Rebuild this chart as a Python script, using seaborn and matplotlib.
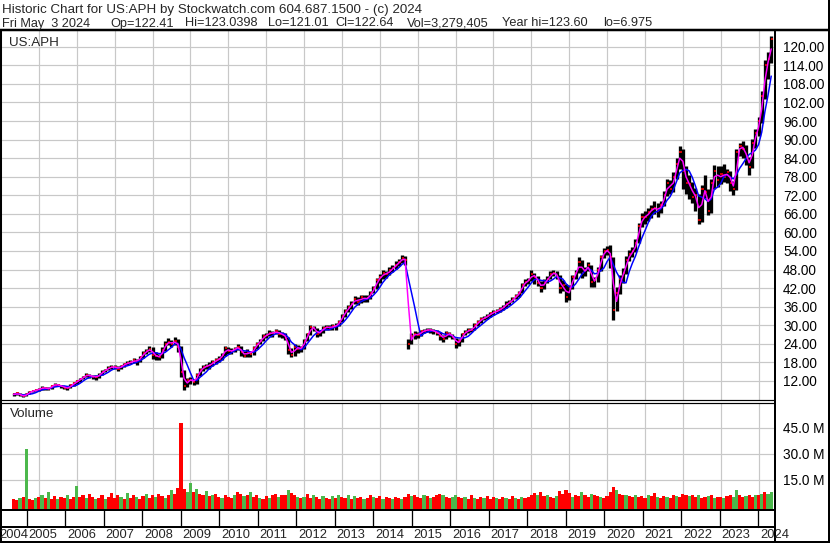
import numpy as np
import pandas as pd
import seaborn as sns
import matplotlib.pyplot as plt
from matplotlib.lines import Line2D

# monthly bars, May 2004 .. May 2024
close = [
    7.6, 8.0, 7.3, 7.0, 7.8, 8.4, 8.8, 9.0,
    9.4, 9.8, 9.6, 9.4, 10.5, 10.8, 10.6, 10.2, 9.8, 9.6, 10.6, 11.2,
    12.0, 12.6, 13.3, 14.0, 13.6, 13.4, 13.2, 14.0, 15.0, 15.6, 16.2, 16.6,
    16.4, 16.0, 16.8, 17.4, 17.8, 18.0, 18.6, 18.4, 19.6, 21.0, 21.6, 22.4,
    20.5, 20.0, 19.6, 22.0, 24.0, 24.6, 24.0, 25.0, 23.0, 15.0, 10.5, 12.2,
    12.4, 11.5, 14.0, 15.5, 16.5, 16.8, 17.2, 18.0, 18.6, 19.2, 20.4, 22.5,
    21.5, 21.8, 22.4, 23.0, 21.2, 20.2, 21.4, 20.8, 22.6, 24.0, 25.0, 26.4,
    26.8, 27.6, 27.4, 28.0, 27.2, 27.0, 26.0, 22.0, 20.4, 23.0, 22.4, 22.6,
    25.0, 27.0, 29.5, 29.0, 27.0, 28.0, 29.0, 29.5, 29.2, 29.6, 29.8, 31.0,
    33.0, 34.5, 35.8, 37.0, 38.5, 37.6, 39.0, 38.4, 38.8, 40.4, 42.0, 44.6,
    45.5, 46.8, 46.5, 47.8, 48.5, 49.6, 50.5, 51.7, 51.0, 24.0, 26.5, 27.2,
    26.8, 28.0, 28.2, 28.6, 28.4, 28.0, 27.6, 26.6, 25.6, 27.4, 27.0, 26.2,
    24.0, 24.8, 27.0, 27.8, 28.4, 28.6, 30.0, 31.0, 32.0, 32.4, 33.0, 33.8,
    34.2, 34.6, 35.2, 35.9, 37.0, 37.5, 38.4, 39.5, 40.4, 43.0, 44.0, 44.6,
    46.5, 45.6, 43.8, 42.0, 44.0, 45.0, 46.5, 47.0, 46.0, 42.0, 43.0, 39.0,
    42.0, 45.5, 47.0, 50.5, 47.0, 48.0, 49.5, 44.0, 44.5, 48.0, 52.0, 54.0,
    54.3, 52.0, 35.0, 40.4, 45.0, 47.0, 51.0, 53.0, 54.0, 56.6, 62.0, 65.0,
    65.0, 66.5, 67.5, 68.0, 67.0, 69.0, 72.0, 76.0, 74.0, 78.0, 82.0, 86.0,
    80.0, 76.0, 75.5, 71.5, 72.0, 64.0, 74.0, 73.0, 67.0, 76.0, 80.0, 77.0,
    79.0, 78.0, 79.5, 76.0, 74.0, 86.0, 88.0, 87.0, 84.0, 81.0, 89.0, 92.0,
    96.0, 104.0, 114.0, 116.0, 122.6,
]
high = [
    8.0, 8.4, 8.1, 7.5, 8.0, 8.7, 9.2, 9.4,
    9.8, 10.2, 10.1, 9.9, 10.8, 11.3, 11.1, 10.8, 10.4, 10.2, 10.9, 11.6,
    12.4, 13.0, 13.7, 14.6, 14.3, 13.9, 13.8, 14.4, 15.4, 16.0, 16.7, 17.2,
    17.1, 16.8, 17.2, 17.9, 18.4, 18.6, 19.5, 19.2, 20.2, 21.8, 22.4, 23.2,
    22.8, 21.2, 20.8, 22.8, 24.8, 25.8, 25.2, 26.2, 25.6, 23.2, 15.6, 13.0,
    13.2, 12.6, 14.6, 16.2, 17.2, 17.6, 18.0, 18.7, 19.3, 20.0, 21.0, 23.2,
    23.0, 22.6, 23.0, 24.0, 23.4, 21.8, 22.4, 21.8, 23.2, 24.6, 25.6, 27.0,
    27.6, 28.4, 28.2, 28.9, 28.6, 27.8, 27.6, 26.2, 22.6, 23.8, 23.6, 23.4,
    25.6, 27.6, 30.0, 29.8, 29.2, 28.6, 29.6, 30.2, 30.0, 30.4, 30.6, 31.6,
    33.6, 35.2, 36.6, 37.8, 39.4, 39.0, 39.8, 39.6, 39.8, 41.2, 42.8, 45.4,
    46.4, 47.8, 47.6, 48.8, 49.4, 50.6, 51.4, 52.6, 52.4, 25.4, 27.4, 28.0,
    27.8, 28.6, 28.9, 29.2, 29.2, 28.8, 28.4, 27.8, 26.8, 28.0, 27.8, 27.2,
    26.0, 25.6, 27.6, 28.4, 29.0, 29.2, 30.6, 31.6, 32.6, 33.0, 33.6, 34.4,
    34.8, 35.2, 35.8, 36.6, 37.8, 38.2, 39.2, 40.2, 41.2, 43.8, 44.8, 45.4,
    47.8, 47.0, 46.0, 44.2, 44.8, 45.8, 47.4, 48.0, 47.6, 46.2, 44.6, 43.4,
    43.0, 46.2, 48.0, 52.0, 51.0, 48.8, 50.4, 49.6, 45.6, 48.8, 52.8, 54.8,
    55.6, 56.0, 52.0, 42.4, 46.2, 48.6, 52.4, 54.4, 55.4, 58.0, 63.0, 66.4,
    67.0, 68.0, 69.0, 70.0, 69.6, 70.2, 73.4, 77.4, 77.0, 79.6, 84.0, 88.0,
    86.8, 81.6, 78.6, 76.4, 74.4, 72.4, 75.2, 78.4, 74.0, 77.2, 81.8, 81.4,
    81.6, 82.0, 80.6, 79.8, 76.6, 86.8, 88.8, 89.4, 88.2, 84.4, 90.2, 93.4,
    97.4, 105.6, 115.6, 118.4, 123.6,
]
low = [
    7.0, 7.4, 7.0, 6.8, 7.0, 7.7, 8.3, 8.6,
    8.8, 9.2, 9.2, 9.0, 9.3, 10.3, 10.2, 9.8, 9.4, 9.2, 9.6, 10.5,
    11.1, 11.8, 12.5, 13.2, 12.9, 12.7, 12.4, 13.0, 13.9, 14.9, 15.5, 16.0,
    15.8, 15.3, 15.8, 16.6, 17.1, 17.3, 17.7, 17.2, 18.2, 19.4, 20.6, 21.2,
    19.2, 18.8, 18.6, 19.4, 21.6, 23.6, 22.8, 23.6, 21.4, 13.4, 9.0, 10.0,
    11.0, 10.6, 11.0, 13.6, 15.2, 15.8, 16.0, 16.9, 17.6, 18.0, 18.8, 20.2,
    20.6, 20.8, 21.4, 22.0, 20.0, 19.6, 19.8, 19.8, 20.4, 22.4, 23.8, 24.8,
    25.8, 26.4, 26.2, 27.0, 26.2, 26.0, 25.2, 20.6, 19.6, 20.0, 21.0, 21.4,
    22.4, 24.8, 26.8, 28.2, 26.2, 26.4, 27.6, 28.6, 28.4, 28.6, 28.6, 29.6,
    31.0, 32.6, 34.2, 35.2, 36.8, 36.4, 37.2, 37.4, 37.6, 38.6, 40.4, 41.8,
    43.6, 45.0, 45.2, 46.2, 47.2, 48.2, 49.2, 50.2, 49.6, 22.4, 23.8, 25.6,
    25.8, 26.6, 27.4, 27.8, 27.6, 27.2, 26.8, 25.2, 24.6, 25.4, 26.2, 25.4,
    22.6, 23.4, 24.6, 26.8, 27.6, 27.8, 28.4, 29.8, 30.8, 31.6, 32.0, 32.8,
    33.4, 33.8, 34.4, 35.0, 35.6, 36.6, 37.4, 38.4, 39.2, 40.4, 42.8, 43.4,
    44.4, 43.2, 42.6, 40.8, 41.6, 43.6, 44.8, 46.0, 45.0, 40.4, 41.2, 37.6,
    38.0, 41.8, 45.0, 46.8, 45.4, 45.8, 47.6, 42.2, 42.2, 44.0, 47.6, 51.6,
    52.6, 48.6, 31.6, 34.6, 40.0, 43.6, 46.4, 50.6, 52.2, 53.6, 56.6, 61.6,
    62.6, 63.8, 64.6, 66.0, 65.0, 66.4, 68.6, 71.8, 72.4, 73.2, 77.4, 80.6,
    74.0, 72.4, 70.8, 69.6, 67.0, 62.6, 63.4, 71.2, 65.6, 66.4, 74.0, 74.8,
    75.8, 76.4, 76.0, 73.4, 72.0, 73.8, 84.6, 84.2, 81.8, 78.6, 80.8, 87.4,
    91.2, 95.4, 103.2, 109.6, 114.6,
]
# volume in millions
volume = [
    4.0, 3.5, 4.5, 5.0, 33.0, 4.0, 3.5, 4.5,
    5.0, 6.0, 4.5, 8.0, 4.0, 5.5, 4.0, 5.0, 4.5, 6.5, 4.0, 5.0,
    11.5, 5.0, 6.5, 4.5, 7.0, 5.0, 4.0, 4.5, 6.0, 4.0, 5.0, 7.5,
    4.5, 6.0, 5.0, 4.0, 7.5, 4.5, 6.5, 5.0, 4.0, 5.5, 7.0, 4.5,
    6.0, 5.0, 7.0, 5.5, 4.5, 6.0, 9.0, 7.0, 10.4, 48.0, 10.0, 8.0,
    13.3, 8.0, 10.0, 7.0, 6.0, 8.5, 5.5, 6.0, 7.0, 5.0, 4.5, 6.0,
    5.0, 4.5, 6.0, 8.0, 7.0, 5.5, 6.5, 8.0, 5.0, 6.0, 4.5, 4.0,
    5.5, 4.5, 6.0, 7.0, 5.0, 6.0, 6.5, 9.0, 7.5, 6.0, 5.0, 4.5,
    5.0, 7.0, 4.5, 6.0, 5.0, 4.0, 5.5, 4.5, 4.0, 5.5, 4.5, 6.0,
    5.0, 4.5, 6.0, 4.0, 5.5, 4.5, 5.0, 4.0, 4.5, 6.0, 5.0, 4.5,
    5.5, 4.0, 5.0, 4.5, 4.0, 5.0, 4.5, 4.0, 5.0, 7.0, 5.5, 6.0,
    5.0, 4.5, 6.0, 5.5, 4.5, 5.0, 6.0, 7.0, 6.0, 5.0, 4.5, 5.0,
    6.5, 5.0, 4.5, 5.0, 4.0, 6.0, 4.5, 4.0, 5.0, 4.5, 5.5, 4.0,
    5.0, 4.5, 4.0, 5.0, 4.5, 4.0, 5.5, 4.5, 4.0, 5.0, 4.5, 5.0,
    6.0, 7.5, 6.5, 8.0, 5.5, 6.0, 5.0, 4.5, 5.5, 8.5, 7.0, 9.0,
    7.5, 5.0, 6.0, 5.5, 8.0, 6.0, 5.0, 7.0, 6.0, 5.5, 5.0, 4.5,
    5.5, 8.0, 11.0, 9.0, 7.0, 6.5, 6.0, 5.5, 5.0, 6.0, 5.0, 5.5,
    4.5, 6.0, 5.5, 7.5, 5.0, 4.5, 5.5, 5.0, 4.5, 6.0, 5.5, 5.0,
    7.0, 6.0, 5.5, 6.5, 5.0, 6.0, 4.5, 5.0, 5.5, 6.0, 4.5, 5.0,
    5.0, 4.5, 5.5, 6.0, 5.0, 9.0, 6.5, 5.0, 5.5, 6.0, 5.0, 6.5,
    6.0, 7.0, 8.0, 7.0, 8.0,
]
# dominant bar colour per month: R = red (down), G = green (up)
volume_color = (
    "RRGRGRRG"
    "RGRGRRGRRGRR" "GRRGRRGRRGRR" "RRGRGRRGRRGR" "RGRRGRGRRRRG" "GRGRRGRGRRGR"
    "RRGRRGRGRRGR" "RGRRGRRGRRGR" "GRRGRRGRRGRG" "RRGRGRRGRRGR" "RGRRGRRGRRGR"
    "RRGRGRRRGRRG" "GRRGRRGRRGRR" "RGRRGRRGRGRR" "RRGRRGRRGRRR" "RGRRGRRGRRGR"
    "RRRGRRGRRGRR" "RGRRGRRGRRGR" "RRGRRGRRGRGR" "RGRRGGRRGRRG"
    "RGRGG"
)

years = list(range(2004, 2025))
price_ticks = [12, 18, 24, 30, 36, 42, 48, 54, 60, 66, 72, 78, 84, 90, 96, 102, 108, 114, 120]
volume_ticks = [15, 30, 45]
header_1 = "Historic Chart for US:APH by Stockwatch.com 604.687.1500 - (c) 2024"
header_2 = ["Fri May  3 2024", "Op=122.41", "Hi=123.0398", "Lo=121.01", "Cl=122.64",
            "Vol=3,279,405", "Year hi=123.60", "lo=6.975"]
header_2_x = [2, 110, 185, 268, 335, 407, 502, 603]

W, H = 830, 543
sns.set_style("white")
plt.rcParams['font.family'] = ['Liberation Sans', 'DejaVu Sans']

df = pd.DataFrame({'m': np.arange(len(close)), 'close': close, 'high': high,
                   'low': low, 'volume': volume, 'vc': list(volume_color)})
df['ma_short'] = df['close'].rolling(2, min_periods=1).mean()
df['ma_long'] = df['close'].rolling(5, min_periods=1).mean()
ma = df.melt(id_vars='m', value_vars=['ma_long', 'ma_short'], var_name='ma', value_name='v')

year_m = [(y - 2004) * 12 - 4 for y in years]   # month index of January
xlim = (-0.1, 241.2)
grid_c = '#C8C8C8'
PX = 0.72  # one pixel in points
VBOT = -1.8


def fx(px):
    return px / W


def fy(py):
    return 1 - py / H


fig = plt.figure(figsize=(W / 100, H / 100), dpi=100)
fig.patch.set_facecolor('white')

ax_p = fig.add_axes([fx(1), fy(400), fx(775) - fx(1), fy(31) - fy(400)])
ax_v = fig.add_axes([fx(1), fy(509), fx(775) - fx(1), fy(403) - fy(509)])

for ax in (ax_p, ax_v):
    ax.set_xlim(*xlim)
    ax.set_xticks(year_m)
    ax.set_xticklabels([])
    ax.grid(True, color=grid_c, lw=1.2 * PX)
    ax.set_axisbelow(True)
    ax.yaxis.tick_right()
    ax.tick_params(axis='both', length=0)
    ax.tick_params(axis='y', pad=8 * PX, labelsize=9.8, labelcolor='black')
    for s in ax.spines.values():
        s.set_visible(False)

# price panel
ax_p.set_ylim(5.82, 125.1)
ax_p.set_yticks(price_ticks)
ax_p.set_yticklabels([f"{t:.2f}" for t in price_ticks])
ax_p.vlines(df['m'], df['low'], df['high'], color='black', lw=3.3 * PX, zorder=2)
ax_p.hlines(df['close'], df['m'] - 0.1, df['m'] + 0.6, color='#FF0000', lw=1.6 * PX, zorder=3)
sns.lineplot(data=ma, x='m', y='v', hue='ma', palette={'ma_long': '#0000FF', 'ma_short': '#FF00FF'},
             lw=1.5 * PX, legend=False, ax=ax_p, zorder=4)
ax_p.set_xlabel('')
ax_p.set_ylabel('')
ax_p.text(8 / 774, 0.985, 'US:APH', transform=ax_p.transAxes,
          ha='left', va='top', fontsize=9.6)

# volume panel
ax_v.set_ylim(VBOT, 59.3)
ax_v.set_yticks(volume_ticks)
ax_v.set_yticklabels([f"{t:.1f} M" for t in volume_ticks])
ax_v.bar(df['m'], df['volume'] - VBOT, bottom=VBOT, width=1.0, linewidth=0, edgecolor='none',
         color=np.where(df['vc'] == 'G', '#4CB84C', '#FF0000'), zorder=2)
ax_v.text(9 / 774, 0.95, 'Volume', transform=ax_v.transAxes, ha='left', va='top', fontsize=9.6)
ax_v.set_xlabel('')
ax_v.set_ylabel('')

# date band and year labels
to_px = lambda m: 1 + (m - xlim[0]) / (xlim[1] - xlim[0]) * 774
for y, m in zip(years, year_m):
    xp = to_px(m)
    if xp > 1:
        fig.add_artist(Line2D([fx(xp), fx(xp)], [fy(510), fy(527)], color='black', lw=1.3 * PX))
    fig.text(fx(max(xp + 1.5, -1)), fy(535.5), str(y), ha='left', va='center', fontsize=9.3)

# header
fig.text(fx(2), fy(13), header_1, ha='left', va='baseline', fontsize=9.65)
for s, xp in zip(header_2, header_2_x):
    fig.text(fx(xp), fy(26.5), s, ha='left', va='baseline', fontsize=9.2)


def rule(x0, y0, x1, y1, w):
    fig.add_artist(Line2D([fx(x0), fx(x1)], [fy(y0), fy(y1)], color='black', lw=w * PX,
                          solid_capstyle='butt'))


rule(0, 29.5, W, 29.5, 2.5)      # under header
rule(0, 400, 775, 400, 1.2)      # price bottom
rule(0, 402.5, 775, 402.5, 1.2)  # volume top
rule(0, 509.5, 775, 509.5, 2)    # volume bottom
rule(0, 526.5, 775, 526.5, 2)    # date band bottom
rule(775, 29.5, 775, H, 2)       # right of plot area
rule(0.8, 29.5, 0.8, H, 2)       # left border
rule(828.5, 0, 828.5, H, 2)      # right border
rule(0, 542, W, 542, 2)          # bottom border

fig.savefig('out.png', dpi=100, facecolor='white')
